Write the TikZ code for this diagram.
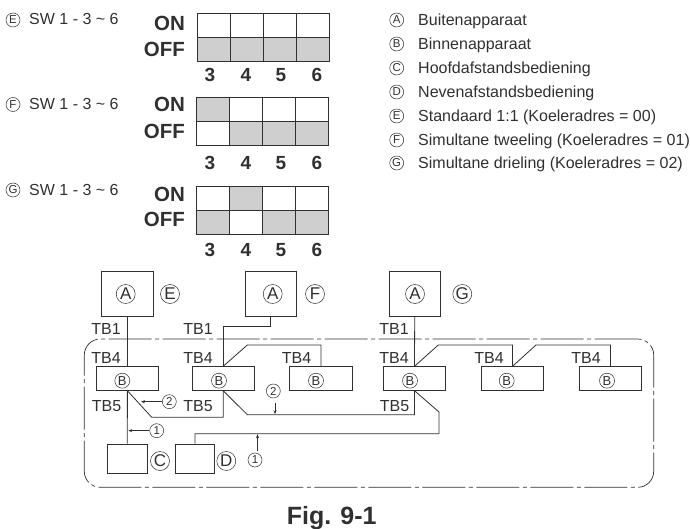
\documentclass[tikz,border=0pt]{standalone}
\usepackage{fontspec}
\usepackage{xcolor}
\usetikzlibrary{arrows.meta}
\setmainfont{Liberation Sans}
\definecolor{swgrey}{HTML}{CFCFCF}
\definecolor{linedark}{HTML}{303030}
\newcommand{\swgrid}[4]{% x of left, y of top, ON pattern, OFF pattern
  \foreach \c/\v in {#3} {
    \node[swcell,fill=\v] at (#1+33*\c-16.5,#2+12) {};
  }
  \foreach \c/\v in {#4} {
    \node[swcell,fill=\v] at (#1+33*\c-16.5,#2+36) {};
  }
}
\begin{document}
\begin{tikzpicture}[x=1pt,y=-1pt,
  swcell/.style={rectangle,draw=linedark,line width=0.9pt,minimum width=33pt,minimum height=24pt,inner sep=0pt},
  swhead/.style={font=\fontsize{20.5}{21}\selectfont\bfseries,anchor=base east,inner sep=0pt,text=linedark},
  swnum/.style={font=\fontsize{19}{20}\selectfont\bfseries,anchor=base,inner sep=0pt,text=linedark},
  tblabel/.style={font=\fontsize{16}{17}\selectfont,anchor=base,inner sep=0pt,text=linedark},
  legendtext/.style={font=\fontsize{16}{17}\selectfont,inner sep=0pt,anchor=base west,text=linedark},
  cmark/.style={circle,draw=linedark,line width=0.5pt,inner sep=0pt,minimum size=19pt,font=\fontsize{17}{18}\selectfont,text=linedark},
  cmid/.style={cmark,minimum size=15pt,font=\fontsize{13}{14}\selectfont},
  csmall/.style={cmark,minimum size=14pt,font=\fontsize{11.5}{12}\selectfont},
  unit/.style={rectangle,draw=linedark,line width=0.8pt,inner sep=0pt},
  indoor/.style={unit,minimum width=62.4pt,minimum height=23.6pt},
  outdoor/.style={unit,minimum width=51.4pt,minimum height=45pt},
  remote/.style={unit,minimum width=39.6pt,minimum height=29pt},
  wire/.style={draw=linedark,line width=0.8pt},
  arr/.style={-{Stealth[length=4pt,width=3pt]},draw=linedark,line width=0.6pt}]
  \useasboundingbox (0,0) rectangle (690,529);

  % switch tables
  \swgrid{197}{13}{1/white,2/white,3/white,4/white}{1/swgrey,2/swgrey,3/swgrey,4/swgrey}
  \swgrid{196}{97.5}{1/swgrey,2/white,3/white,4/white}{1/white,2/swgrey,3/swgrey,4/swgrey}
  \swgrid{196}{186}{1/white,2/swgrey,3/white,4/white}{1/swgrey,2/white,3/swgrey,4/swgrey}

  \foreach \y/\z in {31/56.7,111.7/138.3,201.7/226.7} {
    \node[swhead] at (185,\y) {ON};
    \node[swhead] at (185,\z) {OFF};
  }
  \foreach \y in {81.7,170,256.7} {
    \node[swnum] at (210,\y) {3};
    \node[swnum] at (246,\y) {4};
    \node[swnum] at (281,\y) {5};
    \node[swnum] at (317,\y) {6};
  }

  \foreach \y/\t/\z in {20/E/25,104.5/F/110,190/G/196} {
    \node[csmall] at (13,\y) {\t};
    \node[legendtext] at (29,\z) {SW 1 - 3 \char`~{} 6};
  }

  % legend
  \foreach \y/\t/\s in {20/A/Buitenapparaat,44/B/Binnenapparaat,68/C/Hoofdafstandsbediening,
    92/D/Nevenafstandsbediening,116/E/Standaard 1:1 (Koeleradres = 00),
    140/F/Simultane tweeling (Koeleradres = 01),163/G/Simultane drieling (Koeleradres = 02)} {
    \node[csmall] at (396.7,\y) {\t};
    \node[legendtext] at (418,\y+5.3) {\s};
  }

  % dash-dot frame
  \node[draw=linedark,line width=0.7pt,rounded corners=16pt,dash pattern=on 43pt off 3.5pt on 4pt off 3.5pt,
    minimum width=569.4pt,minimum height=148.3pt,inner sep=0pt] (room) at (369,413.15) {};

  % units
  \node[outdoor] (outa) at (127.5,294.2) {};
  \node[outdoor] (outb) at (270.7,294.2) {};
  \node[outdoor] (outc) at (414.7,294.2) {};
  \node[indoor] (ina) at (127.4,378.5) {};
  \node[indoor] (inb) at (223.2,378.5) {};
  \node[indoor] (inc) at (321,378.5) {};
  \node[indoor] (ind) at (414.5,378.5) {};
  \node[indoor] (ine) at (512.5,378.5) {};
  \node[indoor] (inf) at (610.5,378.5) {};
  \node[remote] (rcmain) at (127.3,458.5) {};
  \node[remote] (rcsub) at (195,458.5) {};

  \foreach \x in {125.7,272.7,415} {
    \node[cmark] at (\x,294) {A};
  }
  \node[cmark] at (170,294) {E};
  \node[cmark] at (315,294) {F};
  \node[cmark] at (462.3,294) {G};
  \foreach \x in {122.3,219,316,410,506.7,607} {
    \node[cmid] at (\x,380.7) {B};
  }
  \node[cmark] at (160,461) {C};
  \node[cmark] at (226.3,461) {D};

  % TB labels
  \foreach \x/\y/\t in {106/334/TB1,198/334/TB1,394/334/TB1,
    106/363.3/TB4,198/363.3/TB4,296.5/363.3/TB4,394/363.3/TB4,489/363.3/TB4,586/363.3/TB4,
    106.5/411/TB5,198/411/TB5,394.5/411/TB5} {
    \node[tblabel] at (\x,\y) {\t};
  }

  % wires, top side
  \draw[wire] (outa.south) -- (ina.north);
  \draw[wire] (outb.south) |- (223.2,326.7) -- (inb.north);
  \draw[wire] (outc.south) -- (ind.north);
  \draw[wire] (inb.north) -- (247.3,345) -| (inc.north);
  \draw[wire] (ind.north) -- (438.3,345) -| (ine.north);
  \draw[wire] (ine.north) -- (536,345) -| (inf.north);

  % wires, bottom side
  \draw[wire] (ina.south) -- (rcmain.north);
  \draw[wire] (ina.south) -- (151.7,417.3) -| (inb.south);
  \draw[wire] (inb.south) -- (247.3,414.7) -| (ind.south);
  \draw[wire] (ind.south) -- (439,412) -- (439,433.7) -| (rcsub.north);

  % cable marks
  \node[csmall] (twoa) at (169.3,401.7) {2};
  \node[csmall] (onea) at (156.7,430.7) {1};
  \node[csmall] (twob) at (273.3,391) {2};
  \node[csmall] (oneb) at (255,460) {1};
  \coordinate (twoatip) at (141,401.7);
  \coordinate (oneatip) at (128.3,430.7);
  \coordinate (twobtail) at (275,403);
  \coordinate (twobtip) at (275,414.2);
  \coordinate (onebtail) at (257.5,451);
  \coordinate (onebtip) at (257.5,434.2);
  \draw[arr] (twoa) -- (twoatip);
  \draw[arr] (onea) -- (oneatip);
  \draw[arr] (twobtail) -- (twobtip);
  \draw[arr] (onebtail) -- (onebtip);

  \node[font=\fontsize{25}{26}\selectfont\bfseries,anchor=base,inner sep=0pt,text=linedark] (figlabel) at (331.7,524) {Fig. 9-1};
\end{tikzpicture}
\end{document}
